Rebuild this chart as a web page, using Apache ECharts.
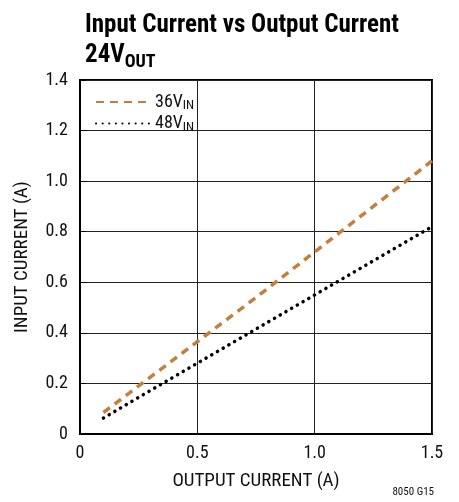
<!DOCTYPE html>
<html><head><meta charset="utf-8">
<script src="https://cdn.jsdelivr.net/npm/echarts@6/dist/echarts.min.js"></script>
<style>html,body{margin:0;padding:0;background:#fff}#c{width:459px;height:502px}</style>
</head><body><div id="c"></div>
<script>
const xValues = [0.1, 0.25, 0.5, 0.75, 1.0, 1.25, 1.5];
const in36 = [0.085, 0.19, 0.365, 0.54, 0.72, 0.90, 1.08];
const in48 = [0.063, 0.145, 0.28, 0.415, 0.55, 0.685, 0.82];
const seriesNames = ['36V', '48V'];
const xTicks = ['0', '0.5', '1.0', '1.5'];
const FONT = '"Liberation Sans Narrow","Roboto Condensed","Liberation Sans",sans-serif';
const chart = echarts.init(document.getElementById('c'));
const pairs = a => xValues.map((x, i) => [x, a[i]]);
chart.setOption({
  animation: false,
  title: {
    left: 80, top: 6,
    text: '{t|Input Current vs Output Current}\n{t|24V}{s|OUT}',
    textStyle: { rich: {
      t: { fontFamily: FONT, fontWeight: 'bold', fontSize: 25, color: '#000', lineHeight: 30 },
      s: { fontFamily: FONT, fontWeight: 'bold', fontSize: 18, color: '#000', verticalAlign: 'bottom', padding: [10, 0, 0, 0] }
    } }
  },
  legend: {
    left: 90, top: 88, orient: 'vertical', itemGap: 2, itemWidth: 54, itemHeight: 14,
    itemStyle: { opacity: 0 },
    formatter: n => '{a|' + n + '}{b|IN}',
    textStyle: { rich: {
      a: { fontFamily: FONT, fontSize: 18, color: '#111' },
      b: { fontFamily: FONT, fontSize: 13, color: '#111', verticalAlign: 'bottom', padding: [8, 0, 0, 0] }
    } },
    data: seriesNames
  },
  grid: { left: 80, top: 80, right: 27, bottom: 68, show: true, borderColor: '#000', borderWidth: 2 },
  xAxis: {
    type: 'value', min: 0, max: 1.5, interval: 0.5,
    name: 'OUTPUT CURRENT (A)', nameLocation: 'middle', nameGap: 38,
    nameTextStyle: { fontFamily: FONT, fontSize: 19, color: '#111' },
    axisLine: { show: true, lineStyle: { color: '#000', width: 2 } },
    axisTick: { show: false },
    axisLabel: { fontFamily: FONT, fontSize: 18, color: '#111', margin: 10,
      formatter: v => xTicks[Math.round(v / 0.5)] },
    splitLine: { show: true, lineStyle: { color: '#222', width: 1 } }
  },
  yAxis: {
    type: 'value', min: 0, max: 1.4, interval: 0.2,
    name: 'INPUT CURRENT (A)', nameLocation: 'middle', nameGap: 48, nameRotate: 90,
    nameTextStyle: { fontFamily: FONT, fontSize: 19, color: '#111' },
    axisLine: { show: true, lineStyle: { color: '#000', width: 2 } },
    axisTick: { show: true, length: -6, lineStyle: { color: '#000' } },
    axisLabel: { fontFamily: FONT, fontSize: 18, color: '#111', margin: 12,
      formatter: v => v === 0 ? '0' : v.toFixed(1) },
    splitLine: { show: true, lineStyle: { color: '#222', width: 1 } }
  },
  graphic: [{ type: 'text', right: 25, bottom: 4,
    style: { text: '8050 G15', fontFamily: FONT, fontSize: 11, fill: '#111' } }],
  series: [
    { name: seriesNames[0], type: 'line', data: pairs(in36), showSymbol: false, symbol: 'none',
      lineStyle: { color: '#c47f3c', width: 3.5, type: [8, 6] }, itemStyle: { color: '#c47f3c' } },
    { name: seriesNames[1], type: 'line', data: pairs(in48), showSymbol: false, symbol: 'none',
      lineStyle: { color: '#000', width: 3.5, type: [0.1, 6.5], cap: 'round' }, itemStyle: { color: '#000' } }
  ]
});
</script></body></html>
